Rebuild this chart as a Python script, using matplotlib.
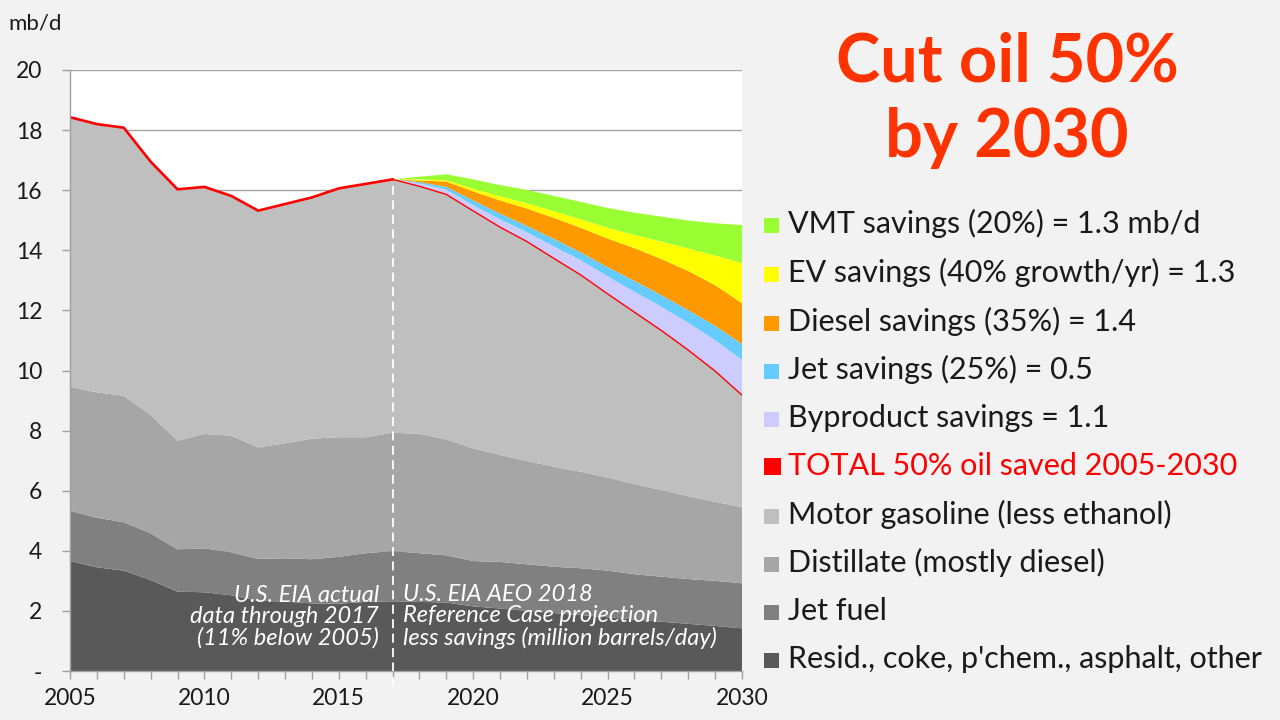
import matplotlib
matplotlib.use("Agg")
import matplotlib.pyplot as plt
from matplotlib.patches import Rectangle
import numpy as np

plt.rcParams["font.family"] = ["Lato", "DejaVu Sans"]

# ---- data (mb/d) ----
years = list(range(2005, 2031))

resid = [3.66, 3.45, 3.34, 3.03, 2.64, 2.62, 2.52, 2.34, 2.31, 2.25, 2.24, 2.30, 2.32,
         2.30, 2.28, 2.15, 2.08, 2.00, 1.93, 1.86, 1.79, 1.71, 1.64, 1.57, 1.50, 1.42]
jet_fuel = [1.67, 1.65, 1.61, 1.55, 1.41, 1.46, 1.43, 1.39, 1.44, 1.47, 1.56, 1.62, 1.67,
            1.62, 1.57, 1.51, 1.55, 1.55, 1.54, 1.56, 1.55, 1.51, 1.50, 1.49, 1.50, 1.50]
distillate = [4.13, 4.17, 4.21, 3.94, 3.61, 3.81, 3.88, 3.71, 3.83, 4.01, 3.98, 3.86, 3.94,
              3.97, 3.86, 3.75, 3.56, 3.44, 3.33, 3.21, 3.10, 3.00, 2.88, 2.76, 2.63, 2.53]
gasoline = [8.97, 8.93, 8.92, 8.43, 8.37, 8.22, 7.98, 7.88, 7.96, 8.03, 8.28, 8.43, 8.43,
            8.24, 8.15, 7.90, 7.58, 7.30, 6.93, 6.55, 6.11, 5.72, 5.31, 4.86, 4.35, 3.73]

hist_zeros = [0.0] * 13
byproduct_sav = hist_zeros + [0.10, 0.16, 0.19, 0.26, 0.31, 0.40, 0.49, 0.58, 0.68, 0.79, 0.91, 1.03, 1.17]
jet_sav = hist_zeros + [0.04, 0.09, 0.16, 0.19, 0.21, 0.25, 0.26, 0.31, 0.36, 0.39, 0.42, 0.48, 0.53]
diesel_sav = hist_zeros + [0.05, 0.18, 0.30, 0.44, 0.58, 0.70, 0.82, 0.95, 1.09, 1.20, 1.30, 1.35, 1.36]
ev_sav = hist_zeros + [0.04, 0.04, 0.09, 0.14, 0.17, 0.22, 0.28, 0.36, 0.44, 0.58, 0.75, 0.99, 1.33]
vmt_sav = hist_zeros + [0.09, 0.20, 0.31, 0.37, 0.45, 0.51, 0.58, 0.66, 0.74, 0.83, 0.93, 1.07, 1.27]

legend_labels = [
    "VMT savings (20%) = 1.3 mb/d",
    "EV savings (40% growth/yr) = 1.3",
    "Diesel savings (35%) = 1.4",
    "Jet savings (25%) = 0.5",
    "Byproduct savings = 1.1",
    "TOTAL 50% oil saved 2005-2030",
    "Motor gasoline (less ethanol)",
    "Distillate (mostly diesel)",
    "Jet fuel",
    "Resid., coke, p'chem., asphalt, other",
]

# colours
c_resid, c_jet, c_dist, c_gas = "#595959", "#808080", "#a6a6a6", "#bfbfbf"
c_byp, c_jsav, c_dsl, c_ev, c_vmt = "#ccccff", "#66ccff", "#ff9900", "#ffff00", "#99ff33"
c_red = "#ff0000"
legend_colors = [c_vmt, c_ev, c_dsl, c_jsav, c_byp, c_red, c_gas, c_dist, c_jet, c_resid]

W, H = 1280, 720
fig = plt.figure(figsize=(12.8, 7.2), dpi=100, facecolor="#f2f2f2")
ax = fig.add_axes([70 / W, 1 - 671 / H, (742 - 70) / W, (671 - 70) / H])
ax.set_facecolor("white")

ax.stackplot(years, resid, jet_fuel, distillate, gasoline,
             byproduct_sav, jet_sav, diesel_sav, ev_sav, vmt_sav,
             colors=[c_resid, c_jet, c_dist, c_gas, c_byp, c_jsav, c_dsl, c_ev, c_vmt],
             linewidth=0, zorder=2)

# total after savings (top of the grey stack)
total = np.array(resid) + np.array(jet_fuel) + np.array(distillate) + np.array(gasoline)
yr = np.array(years)
hist = yr <= 2017
proj = yr >= 2017
ax.plot(yr[hist], total[hist], color=c_red, lw=1.9, zorder=4, solid_joinstyle="miter")
ax.plot(yr[proj], total[proj], color=c_red, lw=1.0, zorder=4)

# divider between actual and projection
i17 = years.index(2017)
ax.plot([2017, 2017], [-0.5, total[i17] - 0.1], color="white", lw=1.3,
        ls=(0, (5, 3)), zorder=5, clip_on=False)

ax.set_xlim(2005, 2030)
ax.set_ylim(0, 20)
ax.set_yticks(range(0, 21, 2))
ax.set_yticklabels(["-"] + [str(v) for v in range(2, 21, 2)])
ax.set_xticks(years)
ax.set_xticklabels([str(y) if y % 5 == 0 else "" for y in years])
ax.tick_params(axis="both", colors="#a0a0a0", labelcolor="#1a1a1a",
               labelsize=16.5, length=6, width=1)
ax.tick_params(axis="y", pad=14)
ax.tick_params(axis="x", pad=6)
ax.grid(axis="y", color="#a6a6a6", lw=1, zorder=0)
ax.set_axisbelow(True)
for s in ["top", "right"]:
    ax.spines[s].set_visible(False)
for s in ["left", "bottom"]:
    ax.spines[s].set_color("#a0a0a0")
    ax.spines[s].set_linewidth(1)
    ax.spines[s].set_zorder(6)

# annotations inside the plot (anchored on the last line's baseline)
ax.text(2016.5, 0.87, "U.S. EIA actual\ndata through 2017\n(11% below 2005)",
        ha="right", va="baseline", color="white", style="italic",
        fontsize=17, linespacing=1.02, zorder=6)
ax.text(2017.4, 0.87, "U.S. EIA AEO 2018\nReference Case projection\nless savings (million barrels/day)",
        ha="left", va="baseline", color="white", style="italic",
        fontsize=17, linespacing=1.02, zorder=6)

# unit label
fig.text(8 / W, 1 - 29 / H, "mb/d", fontsize=16, color="#1a1a1a", va="baseline")

# headline
fig.text(1007 / W, 1 - 82 / H, "Cut oil 50%", fontsize=48, fontweight="bold",
         color="#ff3300", ha="center", va="baseline")
fig.text(1007 / W, 1 - 157 / H, "by 2030", fontsize=48, fontweight="bold",
         color="#ff3300", ha="center", va="baseline")

# legend on the right
baselines = [233, 282, 331, 379, 427, 475, 524, 572, 620, 668]
for lab, col, b in zip(legend_labels, legend_colors, baselines):
    size = 17 if col == c_red else 15
    fig.add_artist(Rectangle((764 / W, 1 - b / H), size / W, size / H,
                             transform=fig.transFigure, facecolor=col, edgecolor="none"))
    fig.text(788 / W, 1 - b / H, lab, fontsize=22,
             color=c_red if col == c_red else "#1a1a1a", va="baseline", ha="left")

fig.savefig("out.png", dpi=100, facecolor=fig.get_facecolor())
